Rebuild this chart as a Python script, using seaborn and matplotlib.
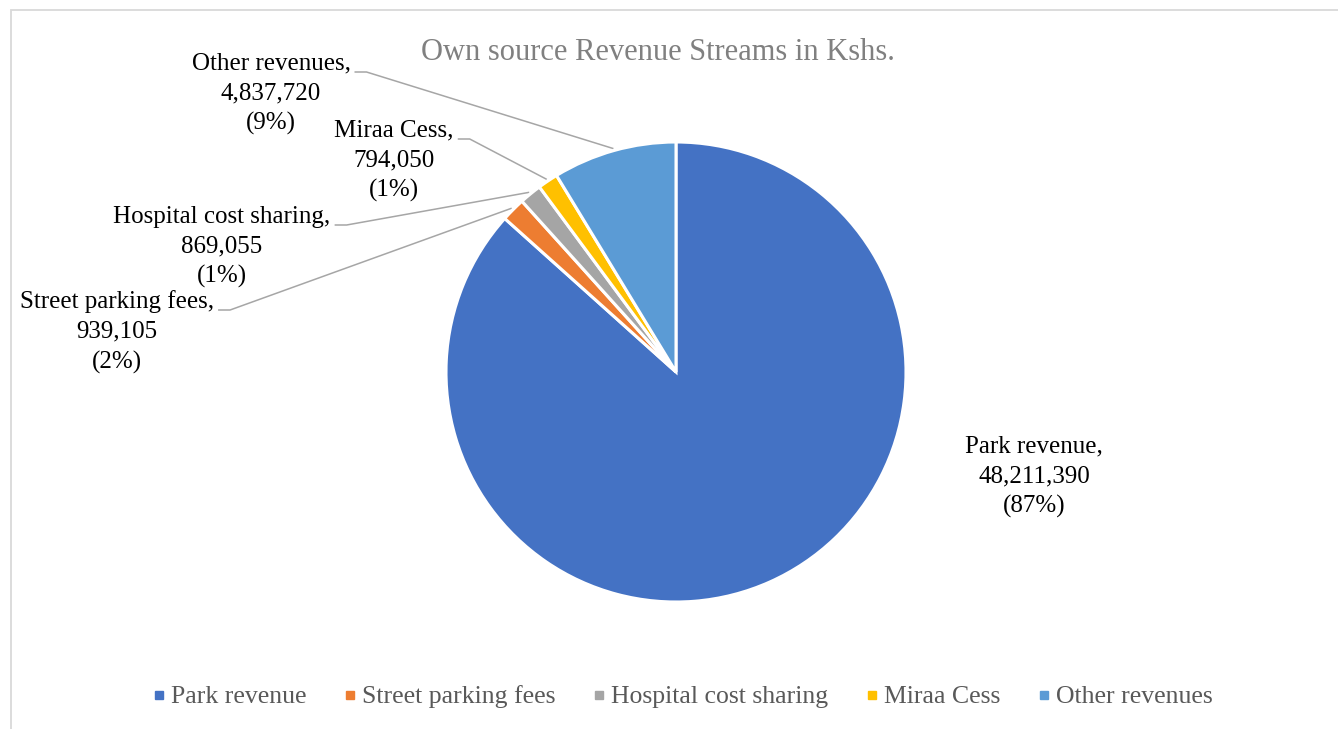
import numpy as np
import matplotlib
matplotlib.use("Agg")
import matplotlib.pyplot as plt
from matplotlib.lines import Line2D
from matplotlib.patches import Rectangle
import seaborn as sns

# Revenue streams (Kshs.)
categories = ["Park revenue", "Street parking fees", "Hospital cost sharing",
              "Miraa Cess", "Other revenues"]
revenues = [48211390, 939105, 869055, 794050, 4837720]
title_text = "Own source Revenue Streams in Kshs."

palette = sns.color_palette(["#4472C4", "#ED7D31", "#A5A5A5", "#FFC000", "#5B9BD5"])

sns.set_theme(style="white")
plt.rcParams["font.family"] = ["Liberation Serif", "DejaVu Serif"]

W, H = 1338, 729
fig = plt.figure(figsize=(W / 100, H / 100), dpi=100)
fig.patch.set_facecolor("white")
ax = fig.add_axes([0, 0, 1, 1])

# Pie geometry in pixel units (y measured upwards)
cx, cy, R = 676, H - 372, 230

wedges, _ = ax.pie(revenues, colors=palette, startangle=90, counterclock=False,
                   radius=R, center=(cx, cy),
                   wedgeprops=dict(edgecolor="white", linewidth=2.2))
ax.set_xlim(0, W)
ax.set_ylim(0, H)
ax.set_aspect("equal")
ax.axis("off")

# Whole-number percentages that add up to 100 (largest remainder)
vals = np.array(revenues, dtype=float)
raw = vals / vals.sum() * 100
pcts = np.floor(raw).astype(int)
rest = 100 - pcts.sum()
for i in np.argsort(-(raw - np.floor(raw)))[:rest]:
    pcts[i] += 1

# Label block centres (second line), pixel coordinates from top
label_pos = {
    "Park revenue": (1034, 477),
    "Street parking fees": (117, 332),
    "Hospital cost sharing": (222, 247),
    "Miraa Cess": (394, 161),
    "Other revenues": (271, 94),
}
label_fs = 18
line_col = "#A6A6A6"

fig.canvas.draw()
renderer = fig.canvas.get_renderer()

for w, name, val, p in zip(wedges, categories, revenues, pcts):
    lx, ly = label_pos[name]
    first = f"{name},"
    ax.text(lx, H - ly, f"{first}\n{val:,}\n({p}%)", ha="center", va="center",
            multialignment="center", fontsize=label_fs, color="black",
            linespacing=1.45)
    if name == "Park revenue":
        continue
    # leader line: short horizontal tail after the first line, then to the wedge
    probe = ax.text(0, 0, first, fontsize=label_fs)
    w1 = probe.get_window_extent(renderer).width
    probe.remove()
    x0 = lx + w1 / 2 + 4
    y0 = H - (ly - 30 + 8)
    ang = np.deg2rad((w.theta1 + w.theta2) / 2)
    xe = cx + (R + 2) * np.cos(ang)
    ye = cy + (R + 2) * np.sin(ang)
    ax.plot([x0, x0 + 12, xe], [y0, y0, ye], color=line_col, lw=1.1,
            solid_capstyle="butt", zorder=0)

fig.text(658 / W, 1 - 52 / H, title_text, ha="center", va="center",
         fontsize=22, color="#808080")

handles = [Line2D([], [], marker="s", linestyle="none", markersize=6,
                  markerfacecolor=c, markeredgecolor=c) for c in palette]
fig.legend(handles, categories, loc="center", bbox_to_anchor=(682 / W, 1 - 697 / H),
           ncol=5, frameon=False, fontsize=18.5, labelcolor="#595959",
           handletextpad=0.17, columnspacing=1.4, handlelength=0.6)

# Chart-area border (left and top edges visible)
fig.patches.append(Rectangle((11, -20), W + 40, H - 10 + 20, transform=None,
                             fill=False, edgecolor="#D9D9D9", linewidth=1.3))

fig.savefig("out.png", dpi=100, facecolor="white")
